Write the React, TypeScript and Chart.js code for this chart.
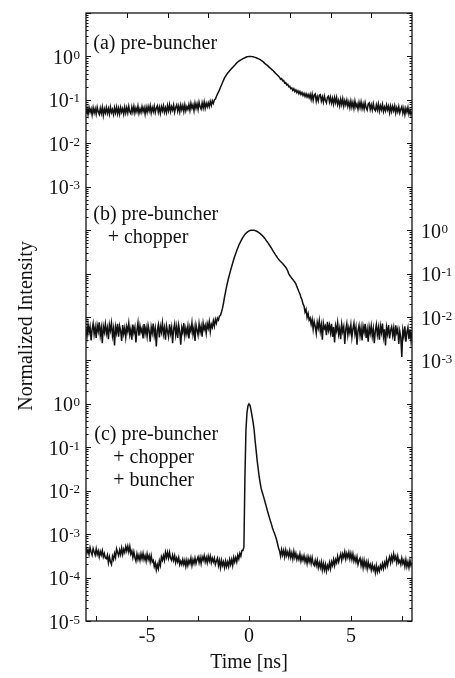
import React, { useEffect, useRef } from "react";
import { Chart, registerables } from "chart.js";

Chart.register(...registerables);

// Time grid of the recorded traces [ns]
const TIME_START = -8;
const TIME_STEP = 0.05;

// (a) pre-buncher  (one row = 1 ns)
const traceA = [
  0.049, 0.064, 0.046, 0.067, 0.052, 0.062, 0.045, 0.066, 0.050, 0.063, 0.047, 0.068, 0.053, 0.046, 0.064, 0.049, 0.067, 0.044, 0.062, 0.050,
  0.067, 0.049, 0.063, 0.047, 0.068, 0.051, 0.060, 0.046, 0.066, 0.050, 0.068, 0.048, 0.064, 0.047, 0.067, 0.052, 0.063, 0.047, 0.068, 0.050,
  0.066, 0.050, 0.071, 0.053, 0.048, 0.068, 0.052, 0.071, 0.050, 0.065, 0.053, 0.072, 0.049, 0.062, 0.051, 0.070, 0.054, 0.066, 0.047, 0.068,
  0.052, 0.070, 0.055, 0.073, 0.050, 0.067, 0.054, 0.072, 0.051, 0.064, 0.073, 0.052, 0.068, 0.049, 0.070, 0.056, 0.073, 0.052, 0.066, 0.051,
  0.074, 0.056, 0.077, 0.054, 0.070, 0.058, 0.076, 0.052, 0.067, 0.077, 0.055, 0.072, 0.053, 0.076, 0.059, 0.074, 0.054, 0.077, 0.056, 0.070,
  0.060, 0.078, 0.057, 0.083, 0.064, 0.077, 0.056, 0.084, 0.064, 0.081, 0.060, 0.088, 0.069, 0.061, 0.085, 0.065, 0.090, 0.064, 0.084, 0.069,
  0.086, 0.070, 0.092, 0.074, 0.095, 0.083, 0.10, 0.104, 0.12, 0.135, 0.15, 0.17, 0.195, 0.22, 0.25, 0.285, 0.32, 0.35, 0.38, 0.41,
  0.44, 0.47, 0.50, 0.53, 0.56, 0.595, 0.63, 0.67, 0.71, 0.745, 0.78, 0.805, 0.83, 0.86, 0.89, 0.91, 0.93, 0.955, 0.98, 0.99,
  1.0, 1.0, 1.0, 0.99, 0.98, 0.965, 0.95, 0.93, 0.91, 0.89, 0.87, 0.84, 0.81, 0.78, 0.75, 0.71, 0.67, 0.645, 0.62, 0.59,
  0.56, 0.535, 0.51, 0.485, 0.46, 0.435, 0.41, 0.39, 0.37, 0.35, 0.33, 0.30, 0.31, 0.275, 0.28, 0.245, 0.25, 0.22, 0.228, 0.20,
  0.205, 0.182, 0.188, 0.165, 0.18, 0.156, 0.17, 0.147, 0.162, 0.138, 0.155, 0.133, 0.148, 0.126, 0.142, 0.12, 0.138, 0.116, 0.133, 0.112,
  0.134, 0.102, 0.136, 0.098, 0.128, 0.136, 0.093, 0.119, 0.095, 0.128, 0.132, 0.094, 0.117, 0.089, 0.122, 0.097, 0.085, 0.115, 0.122, 0.089,
  0.115, 0.084, 0.108, 0.080, 0.113, 0.086, 0.113, 0.078, 0.097, 0.073, 0.104, 0.078, 0.106, 0.072, 0.096, 0.077, 0.099, 0.071, 0.090, 0.066,
  0.094, 0.068, 0.088, 0.064, 0.094, 0.069, 0.081, 0.061, 0.087, 0.066, 0.090, 0.063, 0.081, 0.061, 0.086, 0.066, 0.058, 0.080, 0.085, 0.060,
  0.077, 0.059, 0.082, 0.061, 0.056, 0.077, 0.059, 0.080, 0.055, 0.073, 0.059, 0.079, 0.054, 0.068, 0.056, 0.076, 0.059, 0.072, 0.051, 0.072,
  0.054, 0.071, 0.056, 0.073, 0.050, 0.066, 0.053, 0.070, 0.050, 0.061, 0.070, 0.049, 0.064, 0.046, 0.064, 0.052, 0.067, 0.047, 0.059, 0.046,
  0.055,
];

// (b) pre-buncher + chopper
const traceB = [
  0.0055, 0.0036, 0.0068, 0.0044, 0.0060, 0.0029, 0.0052, 0.0071, 0.0040, 0.0058, 0.0033, 0.0064, 0.0047, 0.0075, 0.0038, 0.0056, 0.0025, 0.0061, 0.0045, 0.0069,
  0.0042, 0.0057, 0.0031, 0.0066, 0.0049, 0.0073, 0.0037, 0.0054, 0.0022, 0.0059, 0.0043, 0.0070, 0.0035, 0.0062, 0.0048, 0.0028, 0.0065, 0.0041, 0.0056, 0.0034,
  0.0060, 0.0046, 0.0072, 0.0039, 0.0053, 0.0030, 0.0067, 0.0044, 0.0058, 0.0026, 0.0050, 0.0074, 0.0037, 0.0063, 0.0045, 0.0055, 0.0032, 0.0069, 0.0041, 0.0057,
  0.0036, 0.0064, 0.0048, 0.0027, 0.0059, 0.0043, 0.0071, 0.0038, 0.0054, 0.0021, 0.0050, 0.0066, 0.0034, 0.0061, 0.0045, 0.0073, 0.0040, 0.0056, 0.0030, 0.0063,
  0.0047, 0.0035, 0.0068, 0.0042, 0.0058, 0.0025, 0.0053, 0.0070, 0.0039, 0.0060, 0.0033, 0.0065, 0.0046, 0.0023, 0.0057, 0.0044, 0.0072, 0.0037, 0.0055, 0.0041,
  0.0062, 0.0032, 0.0059, 0.0047, 0.0074, 0.0040, 0.0056, 0.0028, 0.0066, 0.0050, 0.0038, 0.0069, 0.0045, 0.0061, 0.0035, 0.0072, 0.0052, 0.0064, 0.0042, 0.0070,
  0.0055, 0.0078, 0.0046, 0.0068, 0.0058, 0.0082, 0.0062, 0.0088, 0.0072, 0.0094, 0.0085, 0.0105, 0.011, 0.013, 0.016, 0.021, 0.029, 0.038, 0.050, 0.064,
  0.080, 0.098, 0.12, 0.145, 0.175, 0.21, 0.25, 0.29, 0.34, 0.39, 0.45, 0.50, 0.56, 0.62, 0.68, 0.74, 0.80, 0.85, 0.89, 0.93,
  0.96, 0.98, 0.995, 1.0, 1.0, 0.99, 0.975, 0.955, 0.93, 0.90, 0.865, 0.83, 0.79, 0.75, 0.71, 0.665, 0.62, 0.575, 0.535, 0.495,
  0.455, 0.42, 0.385, 0.35, 0.32, 0.295, 0.27, 0.25, 0.23, 0.215, 0.20, 0.19, 0.18, 0.17, 0.16, 0.15, 0.14, 0.128, 0.115, 0.10,
  0.090, 0.084, 0.078, 0.073, 0.068, 0.063, 0.058, 0.050, 0.044, 0.038, 0.034, 0.028, 0.025, 0.020, 0.018, 0.013, 0.015, 0.0098, 0.012, 0.0085,
  0.0095, 0.0068, 0.0088, 0.0052, 0.0079, 0.0061, 0.0042, 0.0075, 0.0056, 0.0083, 0.0047, 0.0066, 0.0030, 0.0072, 0.0054, 0.0062, 0.0038, 0.0077, 0.0049, 0.0065,
  0.0044, 0.0070, 0.0035, 0.0059, 0.0026, 0.0063, 0.0048, 0.0074, 0.0040, 0.0055, 0.0031, 0.0068, 0.0046, 0.0060, 0.0024, 0.0052, 0.0071, 0.0038, 0.0057, 0.0043,
  0.0066, 0.0034, 0.0053, 0.0072, 0.0041, 0.0058, 0.0023, 0.0049, 0.0064, 0.0037, 0.0056, 0.0029, 0.0061, 0.0045, 0.0070, 0.0033, 0.0051, 0.0027, 0.0059, 0.0042,
  0.0063, 0.0036, 0.0054, 0.0025, 0.0048, 0.0067, 0.0039, 0.0057, 0.0030, 0.0062, 0.0044, 0.0071, 0.0035, 0.0052, 0.0022, 0.0058, 0.0041, 0.0065, 0.0032, 0.0050,
  0.0060, 0.0038, 0.0055, 0.0028, 0.0064, 0.0043, 0.0053, 0.0024, 0.0047, 0.0034, 0.0012, 0.0050, 0.0036, 0.0061, 0.0027, 0.0045, 0.0058, 0.0031, 0.0052, 0.0029,
  0.0046,
];

// (c) pre-buncher + chopper + buncher
const traceC = [
  4.9e-4, 3.7e-4, 4.4e-4, 3.4e-4, 4.9e-4, 3.9e-4, 3.3e-4, 4.7e-4, 3.9e-4, 3.3e-4, 4.6e-4, 3.4e-4, 4.1e-4, 3.0e-4, 4.0e-4, 3.3e-4, 4.2e-4, 3.0e-4, 3.6e-4, 2.8e-4,
  2.7e-4, 3.3e-4, 2.2e-4, 3.0e-4, 2.3e-4, 2.0e-4, 3.1e-4, 2.6e-4, 3.6e-4, 2.9e-4, 4.6e-4, 3.8e-4, 3.2e-4, 4.3e-4, 3.4e-4, 4.8e-4, 3.4e-4, 4.5e-4, 3.8e-4, 5.2e-4,
  4.1e-4, 5.3e-4, 3.9e-4, 5.2e-4, 3.5e-4, 4.1e-4, 2.9e-4, 3.9e-4, 2.9e-4, 2.4e-4, 3.5e-4, 2.6e-4, 3.3e-4, 2.5e-4, 3.5e-4, 2.7e-4, 3.6e-4, 2.6e-4, 3.2e-4, 2.4e-4,
  3.5e-4, 2.6e-4, 3.2e-4, 2.3e-4, 3.2e-4, 2.3e-4, 2.5e-4, 1.8e-4, 2.2e-4, 1.5e-4, 2.0e-4, 1.6e-4, 2.4e-4, 1.9e-4, 3.0e-4, 2.5e-4, 3.2e-4, 2.5e-4, 3.8e-4, 2.9e-4,
  3.8e-4, 2.8e-4, 3.8e-4, 2.8e-4, 2.5e-4, 3.3e-4, 2.5e-4, 3.2e-4, 2.2e-4, 2.8e-4, 2.3e-4, 2.9e-4, 2.0e-4, 2.4e-4, 2.0e-4, 2.6e-4, 2.0e-4, 2.5e-4, 1.8e-4, 2.5e-4,
  1.9e-4, 2.5e-4, 2.1e-4, 2.8e-4, 1.9e-4, 2.6e-4, 2.1e-4, 2.8e-4, 2.1e-4, 2.6e-4, 3.0e-4, 2.2e-4, 2.9e-4, 2.1e-4, 3.0e-4, 2.5e-4, 3.2e-4, 2.3e-4, 2.9e-4, 2.2e-4,
  3.1e-4, 2.4e-4, 3.1e-4, 2.2e-4, 2.8e-4, 2.3e-4, 2.8e-4, 2.0e-4, 2.4e-4, 2.8e-4, 1.9e-4, 2.5e-4, 1.7e-4, 2.5e-4, 1.9e-4, 2.3e-4, 1.7e-4, 2.4e-4, 1.8e-4, 2.3e-4,
  1.8e-4, 2.6e-4, 2.0e-4, 2.6e-4, 1.9e-4, 2.9e-4, 2.3e-4, 2.9e-4, 2.3e-4, 3.3e-4, 2.7e-4, 3.6e-4, 3.1e-4, 4.2e-4, 4.2e-4, 5.0e-4, 0.02, 0.25, 0.62, 0.90,
  1.0, 0.93, 0.72, 0.52, 0.38, 0.26, 0.14, 0.085, 0.05, 0.032, 0.021, 0.015, 0.011, 0.0092, 0.0077, 0.0064, 0.0052, 0.0043, 0.0035, 0.0029,
  0.0024, 0.0020, 0.0017, 0.0014, 0.0012, 0.00105, 9.0e-4, 7.5e-4, 6.0e-4, 4.8e-4, 4.1e-4, 3.1e-4, 4.4e-4, 3.3e-4, 4.2e-4, 3.0e-4, 4.3e-4, 3.2e-4, 3.9e-4, 3.0e-4,
  4.1e-4, 2.9e-4, 3.7e-4, 2.7e-4, 4.0e-4, 2.9e-4, 3.6e-4, 2.6e-4, 3.2e-4, 2.6e-4, 3.5e-4, 2.4e-4, 3.1e-4, 2.5e-4, 3.2e-4, 2.3e-4, 2.9e-4, 2.1e-4, 3.0e-4, 2.3e-4,
  2.9e-4, 2.1e-4, 2.9e-4, 2.1e-4, 1.9e-4, 2.5e-4, 1.9e-4, 2.5e-4, 1.7e-4, 2.2e-4, 1.7e-4, 2.3e-4, 1.5e-4, 2.1e-4, 1.5e-4, 2.0e-4, 1.4e-4, 1.9e-4, 1.6e-4, 2.2e-4,
  1.6e-4, 2.3e-4, 1.9e-4, 2.6e-4, 1.9e-4, 2.6e-4, 2.2e-4, 3.1e-4, 2.3e-4, 2.9e-4, 3.5e-4, 2.5e-4, 3.5e-4, 2.9e-4, 3.9e-4, 2.7e-4, 3.6e-4, 2.9e-4, 3.8e-4, 2.7e-4,
  3.6e-4, 2.6e-4, 3.5e-4, 2.4e-4, 3.0e-4, 2.3e-4, 3.0e-4, 2.0e-4, 2.5e-4, 2.8e-4, 1.9e-4, 2.5e-4, 1.7e-4, 2.5e-4, 1.8e-4, 2.3e-4, 1.6e-4, 2.3e-4, 1.7e-4, 2.0e-4,
  1.5e-4, 2.0e-4, 1.5e-4, 1.8e-4, 1.3e-4, 1.9e-4, 1.35e-4, 1.7e-4, 1.4e-4, 1.9e-4, 1.6e-4, 2.1e-4, 1.6e-4, 2.2e-4, 1.8e-4, 2.6e-4, 1.9e-4, 2.5e-4, 3.0e-4, 2.2e-4,
  3.1e-4, 2.4e-4, 3.5e-4, 2.6e-4, 3.1e-4, 2.2e-4, 3.1e-4, 2.2e-4, 2.5e-4, 2.0e-4, 2.8e-4, 2.1e-4, 2.5e-4, 1.8e-4, 2.6e-4, 1.8e-4, 2.3e-4, 1.7e-4, 2.5e-4, 1.9e-4,
  2.2e-4,
];

// Vertical stacking of the panels on one log axis (decades)
const OFFSET_A = 13;
const OFFSET_B = 9;
const OFFSET_C = 5;
const Y_DECADES = 14;

// Axis ticks
const X_MIN = -8;
const X_MAX = 8;
const X_TICKS_BOTTOM = [-7.5, -5, -2.5, 0, 2.5, 5, 7.5];
const X_TICK_LABELS = [-5, 0, 5];
const X_TICKS_TOP = [-6, -4, -2, 0, 2, 4, 6];
const EXP_LABELS_A = [0, -1, -2, -3];
const EXP_LABELS_B = [0, -1, -2, -3];
const EXP_LABELS_C = [0, -1, -2, -3, -4, -5];

const X_TITLE = "Time [ns]";
const Y_TITLE = "Normalized Intensity";
const LABEL_A = ["(a) pre-buncher"];
const LABEL_B = ["(b) pre-buncher", "+ chopper"];
const LABEL_C = ["(c) pre-buncher", "+ chopper", "+ buncher"];

const MAIN_FONT = '20px "Liberation Serif"';
const SUP_FONT = '13px "Liberation Serif"';
const INK = "#111111";

function toPoints(values: number[], offset: number) {
  return values.map((v, i) => ({
    x: +(TIME_START + i * TIME_STEP).toFixed(3),
    y: v * Math.pow(10, offset),
  }));
}

const decoPlugin = {
  id: "deco",
  afterDraw(chart: any) {
    const { ctx, chartArea } = chart;
    const { left, right, top, bottom } = chartArea;
    const xs = chart.scales.x;
    const ys = chart.scales.y;
    ctx.save();
    ctx.strokeStyle = INK;
    ctx.fillStyle = INK;

    // frame
    ctx.lineWidth = 1.3;
    ctx.strokeRect(left, top, right - left, bottom - top);

    // y ticks (log, both sides, inward)
    ctx.lineWidth = 1;
    ctx.beginPath();
    for (let d = 0; d <= Y_DECADES; d++) {
      for (let m = 1; m <= 9; m++) {
        if (d === Y_DECADES && m > 1) break;
        const py = Math.round(ys.getPixelForValue(m * Math.pow(10, d))) + 0.5;
        const len = m === 1 ? 5 : 2.5;
        ctx.moveTo(left, py);
        ctx.lineTo(left + len, py);
        ctx.moveTo(right, py);
        ctx.lineTo(right - len, py);
      }
    }
    // x ticks
    X_TICKS_BOTTOM.forEach((t) => {
      const px = Math.round(xs.getPixelForValue(t)) + 0.5;
      ctx.moveTo(px, bottom);
      ctx.lineTo(px, bottom - 5);
    });
    X_TICKS_TOP.forEach((t) => {
      const px = Math.round(xs.getPixelForValue(t)) + 0.5;
      ctx.moveTo(px, top);
      ctx.lineTo(px, top + 5);
    });
    ctx.stroke();

    // x tick labels
    ctx.font = MAIN_FONT;
    ctx.textAlign = "center";
    ctx.textBaseline = "alphabetic";
    X_TICK_LABELS.forEach((t) => {
      ctx.fillText(String(t), xs.getPixelForValue(t), bottom + 21);
    });

    // y tick labels with superscript exponents
    const drawPow = (anchorX: number, py: number, exp: number, align: string) => {
      const base = "10";
      const sup = String(exp);
      ctx.textAlign = "left";
      ctx.font = MAIN_FONT;
      const wb = ctx.measureText(base).width;
      ctx.font = SUP_FONT;
      const ws = ctx.measureText(sup).width;
      const x0 = align === "right" ? anchorX - wb - ws - 0.5 : anchorX;
      ctx.font = MAIN_FONT;
      ctx.fillText(base, x0, py + 7.5);
      ctx.font = SUP_FONT;
      ctx.fillText(sup, x0 + wb + 0.5, py + 2.5);
    };
    EXP_LABELS_A.forEach((e) =>
      drawPow(left - 6, ys.getPixelForValue(Math.pow(10, e + OFFSET_A)), e, "right")
    );
    EXP_LABELS_C.forEach((e) =>
      drawPow(left - 6, ys.getPixelForValue(Math.pow(10, e + OFFSET_C)), e, "right")
    );
    EXP_LABELS_B.forEach((e) =>
      drawPow(right + 9, ys.getPixelForValue(Math.pow(10, e + OFFSET_B)), e, "left")
    );

    // panel annotations
    ctx.font = MAIN_FONT;
    ctx.textAlign = "left";
    const yA = ys.getPixelForValue(Math.pow(10, OFFSET_A));
    const yB = ys.getPixelForValue(Math.pow(10, OFFSET_B));
    const yC = ys.getPixelForValue(Math.pow(10, OFFSET_C));
    ctx.fillText(LABEL_A[0], left + 7.3, yA - 7.2);
    ctx.fillText(LABEL_B[0], left + 7.3, yB - 10);
    ctx.fillText(LABEL_B[1], left + 21.7, yB + 13.3);
    ctx.fillText(LABEL_C[0], left + 8.3, yC + 36.3);
    ctx.fillText(LABEL_C[1], left + 27.3, yC + 59.6);
    ctx.fillText(LABEL_C[2], left + 27.3, yC + 82);

    // axis titles
    ctx.textAlign = "center";
    ctx.fillText(X_TITLE, (left + right) / 2, bottom + 47);
    ctx.translate(left - 54, (top + bottom) / 2 + 9);
    ctx.rotate(-Math.PI / 2);
    ctx.fillText(Y_TITLE, 0, 0);
    ctx.restore();
  },
};

export default function App() {
  const ref = useRef<HTMLCanvasElement | null>(null);
  useEffect(() => {
    if (!ref.current) return;
    const ds = (values: number[], offset: number) => ({
      data: toPoints(values, offset),
      borderColor: INK,
      borderWidth: 1.5,
      pointRadius: 0,
      tension: 0,
      fill: false,
    });
    const chart = new Chart(ref.current, {
      type: "line",
      data: {
        datasets: [ds(traceA, OFFSET_A), ds(traceB, OFFSET_B), ds(traceC, OFFSET_C)],
      },
      options: {
        animation: false,
        responsive: false,
        devicePixelRatio: 1,
        layout: { padding: { left: 86, right: 43, top: 13, bottom: 57 } },
        plugins: { legend: { display: false }, tooltip: { enabled: false }, title: { display: false } },
        scales: {
          x: { type: "linear", min: X_MIN, max: X_MAX, display: false },
          y: { type: "logarithmic", min: 1, max: Math.pow(10, Y_DECADES), display: false },
        },
      },
      plugins: [decoPlugin],
    });
    return () => chart.destroy();
  }, []);
  return (
    <div style={{ position: "fixed", left: 0, top: 0, width: 455, height: 678, background: "#fff" }}>
      <canvas ref={ref} width={455} height={678} style={{ display: "block" }} />
    </div>
  );
}
